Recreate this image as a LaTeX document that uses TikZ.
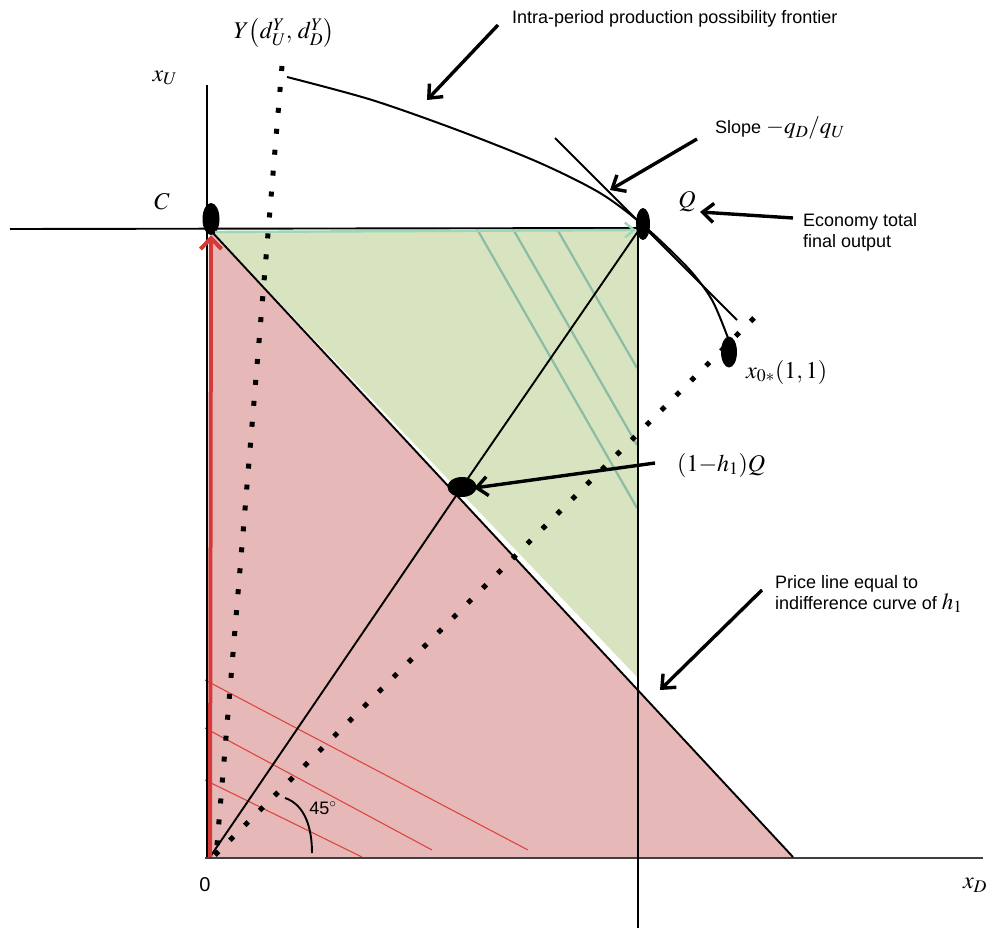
\documentclass[tikz,border=0pt]{standalone}
\usepackage{mathptmx}
\usepackage[no-math]{fontspec}
\setmainfont{Liberation Sans}
\usetikzlibrary{arrows.meta,shapes.geometric}
\definecolor{pinkfill}{RGB}{230,184,183}
\definecolor{greenfill}{RGB}{215,228,191}
\definecolor{redarrow}{RGB}{214,58,56}
\definecolor{tealline}{RGB}{138,188,166}
\definecolor{greenarrow}{RGB}{158,214,184}
\definecolor{redline}{RGB}{222,70,66}
\begin{document}
\begin{tikzpicture}[x=1pt,y=-1pt,
  lbl/.style={font=\fontsize{18}{21}\selectfont, inner sep=0pt},
  mlbl/.style={font=\fontsize{24}{28}\selectfont, inner sep=0pt},
  blob/.style={ellipse, fill=black, inner sep=0pt},
  callout/.style={line width=3.4pt, -{Straight Barb[length=11pt,width=19pt]}},
  sqdots/.style={line width=5pt, dash pattern=on 5pt off 16pt},
  thinline/.style={line width=1.9pt}
]
\useasboundingbox (0,0) rectangle (988,931);

% key coordinates
\coordinate (O) at (210,857);
\coordinate (Ctop) at (212,232);
\coordinate (Qc) at (638,228);
\coordinate (Pend) at (793,857);
\coordinate (Pmid) at (212,857);

% fills
\fill[pinkfill] (Ctop) -- (Pmid) -- (Pend) -- cycle;
\fill[greenfill] (Ctop) -- (Qc) -- (638,678) -- cycle;
\draw[white, line width=2.5pt] (460,494) -- (638,683);

% teal lines in the green region
\draw[tealline, line width=2.2pt] (477,229) -- (637,508);
\draw[tealline, line width=2.2pt] (513,229) -- (637,445);
\draw[tealline, line width=2.2pt] (557,229) -- (637,368);

% red lines in the pink region
\draw[redline, line width=1.1pt] (205,680) -- (528,850);
\draw[redline, line width=1.1pt] (205,728) -- (432,850);
\draw[redline, line width=1.1pt] (205,780) -- (362,857);

% axes
\coordinate (xUtop) at (207,85);
\coordinate (xUbot) at (207,857);
\coordinate (xDl) at (205,858);
\coordinate (xDr) at (983,858);
\coordinate (hl) at (10,229);
\draw[line width=1.3pt, black!75] (xDl) -- (xDr);
\draw[line width=1.3pt] (xUtop) -- (xUbot);
\draw[thinline] (hl) -- (Qc);
\coordinate (Vbot) at (638,928);
\draw[line width=2.2pt] (Qc) -- (Vbot);

% price line
\draw[thinline] (Ctop) -- (Pend);

% dotted lines
\coordinate (Ys) at (216,857);
\coordinate (Ye) at (282,66);
\draw[sqdots] (Ye) -- (Ys);
\coordinate (Ds) at (215,855);
\coordinate (De) at (760,312);
\draw[line width=5pt, dash pattern=on 5pt off 16pt] (Ds) -- (De);

% blobs
\node[blob, minimum width=17pt, minimum height=32pt] (C) at (211,219) {};
\node[blob, minimum width=14pt, minimum height=32pt] (Q) at (643,224) {};
\node[blob, minimum width=16pt, minimum height=31pt] (X0) at (729,352) {};
\node[blob, minimum width=29pt, minimum height=20pt] (H) at (462,487) {};

% ray from origin through (1-h1)Q to Q
\draw[thinline] (O) -- (H.center) -- (Q.center);

% production possibility frontier
\draw[line width=2pt] plot[smooth, tension=0.5] coordinates {(287,77) (372,100) (460,131) (540,163) (600,193) (643,225) (688,268) (712,300) (728,338)};
% tangent
\coordinate (Ts) at (555,138);
\coordinate (Te) at (737,320);
\draw[line width=1.9pt] (Ts) -- (Te);

% red arrow up the x_U axis
\draw[redarrow, line width=4pt, -{Straight Barb[length=11pt,width=21pt]}] (O) -- (C.south);
% green arrow along the top
\draw[greenarrow, line width=2.4pt, -{Straight Barb[length=9pt,width=15pt]}] (215,232) -- (Q.west |- 0,230);

% 45 degree arc
\draw[line width=1.9pt] (285,798) .. controls (306,805) and (312,830) .. (312,853);

% labels
\node[lbl, anchor=west] (tppf) at (512,19) {Intra-period production possibility frontier};
\node[lbl, anchor=west] (tslope) at (715,128) {Slope {\fontsize{23}{26}\selectfont$-q_D/q_U$}};
\node[lbl, anchor=west, align=left] (teco) at (803,232) {Economy total\\final output};
\node[lbl, anchor=west, align=left] (tprice) at (775,594) {Price line equal to\\indifference curve of {\fontsize{23}{26}\selectfont$h_1$}};
\node[mlbl] (tQ) at (687,202) {$Q$};
\node[mlbl, anchor=west] (tx0) at (746,372) {$x_{0*}(1,1)$};
\node[mlbl, anchor=west] (th) at (677,465) {$(1{-}h_1)Q$};
\node[mlbl] (tY) at (284,33) {$Y\bigl(d_U^Y,\,d_D^Y\bigr)$};
\node[mlbl] (txU) at (165,78) {$x_U$};
\node[mlbl] (tC) at (162,202) {$C$};
\node[font=\fontsize{20}{22}\selectfont, inner sep=0pt] (t0) at (205,885) {0};
\node[mlbl] (txD) at (975,885) {$x_D$};
\node[lbl] (t45) at (323,808) {45$^\circ$};

% callout arrows
\coordinate (a1s) at (498,25);  \coordinate (a1e) at (427,100);
\coordinate (a2s) at (697,139); \coordinate (a2e) at (610,190);
\coordinate (a3s) at (793,218); \coordinate (a3e) at (700,212);
\coordinate (a4s) at (655,463); \coordinate (a4e) at (474,488);
\coordinate (a5s) at (762,590); \coordinate (a5e) at (660,690);
\draw[callout] (a1s) -- (a1e);
\draw[callout] (a2s) -- (a2e);
\draw[callout] (a3s) -- (a3e);
\draw[callout] (a4s) -- (a4e);
\draw[callout] (a5s) -- (a5e);
\end{tikzpicture}
\end{document}
